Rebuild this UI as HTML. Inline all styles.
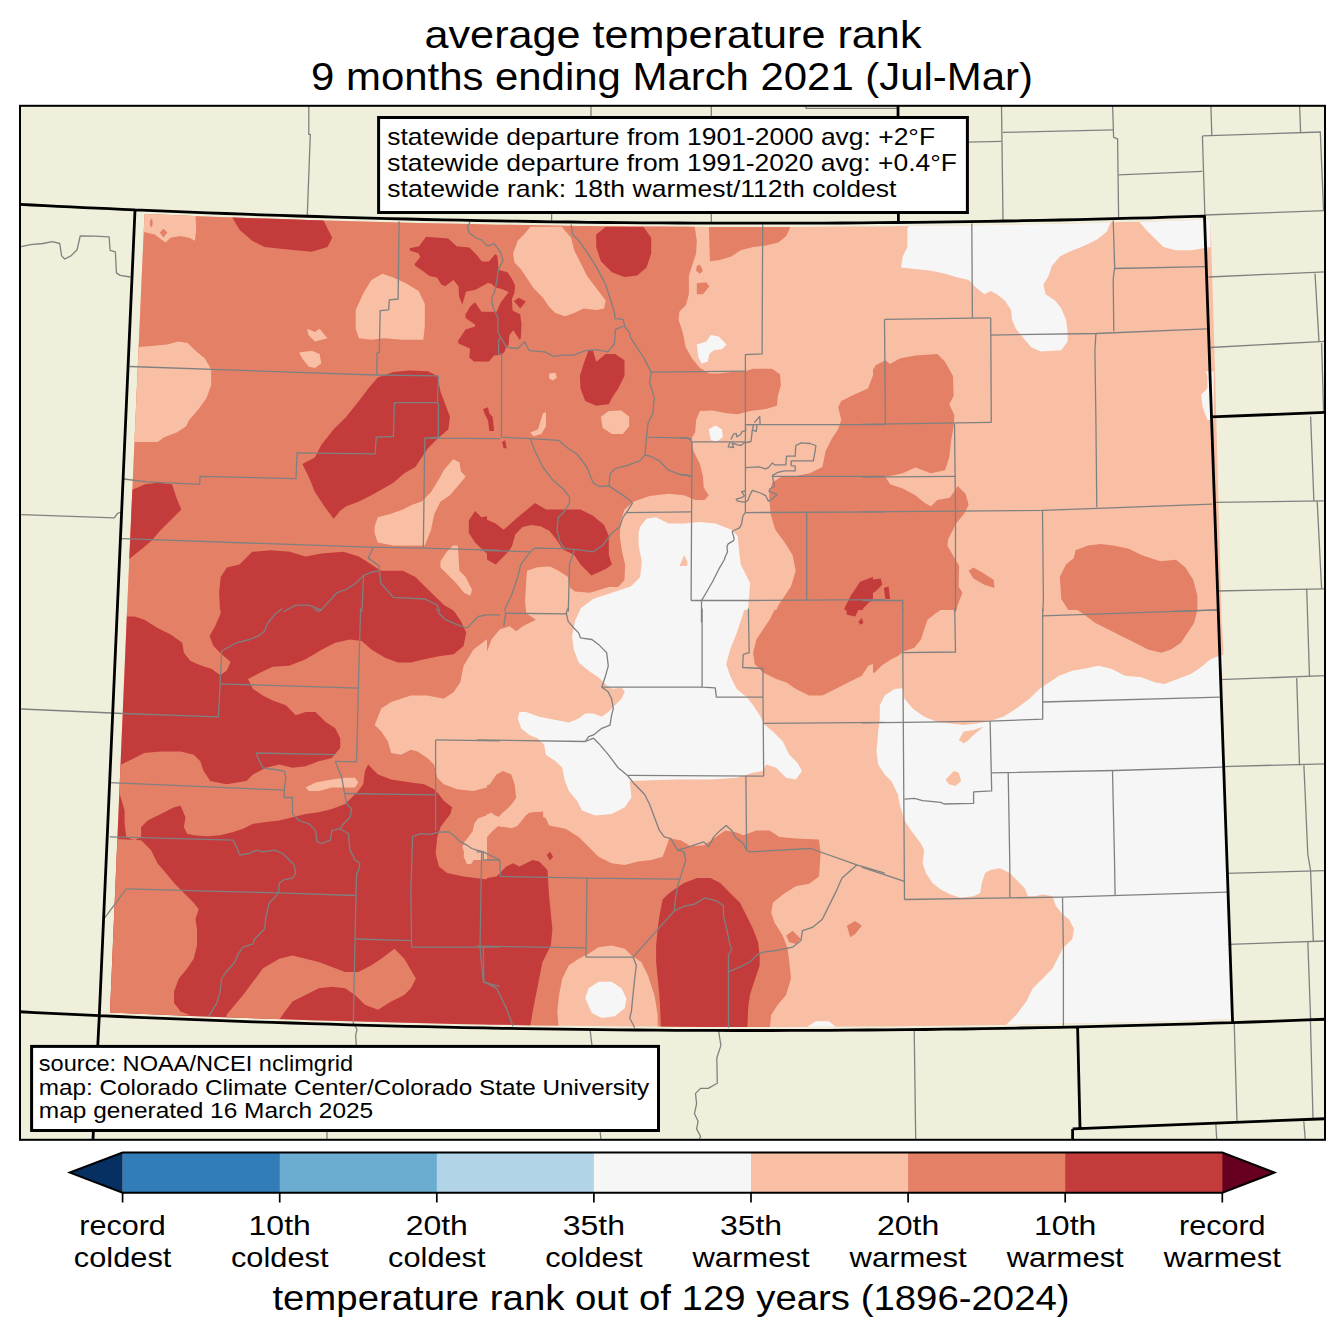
<!DOCTYPE html><html><head><meta charset="utf-8"><style>html,body{margin:0;padding:0;background:#fff;width:1344px;height:1337px;overflow:hidden}svg{display:block}</style></head><body><svg width="1344" height="1337" viewBox="0 0 1344 1337">
<defs><clipPath id="fc"><path d="M144.5,214.0 L171.7,215.1 L198.9,216.2 L226.2,217.2 L253.4,218.2 L280.6,219.1 L307.8,220.0 L335.0,220.8 L362.2,221.6 L389.5,222.3 L416.7,223.0 L443.9,223.6 L471.1,224.1 L498.3,224.7 L525.6,225.1 L552.8,225.5 L580.0,225.9 L607.2,226.2 L634.4,226.4 L661.6,226.6 L688.9,226.8 L716.1,226.9 L743.3,226.9 L770.5,226.9 L797.7,226.9 L824.9,226.8 L852.2,226.6 L879.4,226.4 L906.6,226.1 L933.8,225.8 L961.0,225.4 L988.3,225.0 L1015.5,224.5 L1042.7,224.0 L1069.9,223.4 L1097.1,222.8 L1124.3,222.1 L1151.6,221.4 L1178.8,220.6 L1206.0,219.8 L1209.7,220.0 L1211.0,235.0 L1215.0,370.0 L1221.6,620.0 L1223.4,648.0 L1221.9,700.0 L1231.8,1000.0 L1231.0,1019.6 L1231.0,1019.1 L1202.3,1020.1 L1173.5,1020.9 L1144.8,1021.7 L1116.0,1022.5 L1087.3,1023.2 L1058.5,1023.8 L1029.8,1024.4 L1001.1,1024.9 L972.3,1025.3 L943.6,1025.7 L914.8,1026.1 L886.1,1026.4 L857.3,1026.6 L828.6,1026.8 L799.8,1026.9 L771.1,1027.0 L742.4,1027.0 L713.6,1026.9 L684.9,1026.8 L656.1,1026.6 L627.4,1026.4 L598.6,1026.1 L569.9,1025.8 L541.2,1025.4 L512.4,1024.9 L483.7,1024.4 L454.9,1023.9 L426.2,1023.2 L397.4,1022.6 L368.7,1021.8 L339.9,1021.0 L311.2,1020.2 L282.5,1019.3 L253.7,1018.3 L225.0,1017.3 L196.2,1016.2 L167.5,1015.0 L138.7,1013.8 L110.0,1012.6 L127.5,600.0 Z"/></clipPath><clipPath id="fr"><rect x="20" y="105.5" width="1305" height="1034"/></clipPath></defs>
<rect x="0" y="0" width="1344" height="1337" fill="#fff"/>
<rect x="20" y="105.5" width="1305" height="1034" fill="#efefdb"/>
<g clip-path="url(#fc)">
<rect x="90" y="200" width="1160" height="840" fill="#f8bfa4"/>
<clipPath id="tA"><rect x="80" y="195" width="407" height="415"/></clipPath>
<clipPath id="tB"><rect x="487" y="195" width="386" height="415"/></clipPath>
<clipPath id="tC"><rect x="873" y="195" width="387" height="415"/></clipPath>
<clipPath id="tD"><rect x="80" y="610" width="407" height="435"/></clipPath>
<clipPath id="tE"><rect x="487" y="610" width="386" height="435"/></clipPath>
<clipPath id="tF"><rect x="873" y="610" width="387" height="435"/></clipPath>
<g clip-path="url(#tA)">
<g fill="#e48066"><path d="M88.7,193.7 L500.2,193.7 L500.2,622.5 L88.7,622.5 Z"/></g>
<g fill="#f8bfa4"><path d="M142.1,212.6 L195.5,214.1 L196.2,229.8 L194.9,240.8 L189.2,237.7 L179.8,236.1 L170.4,237.7 L165.7,242.4 L161.0,239.3 L154.7,234.6 L148.4,233.0 L142.1,231.4 Z"/><path d="M132.7,347.6 L151.5,346.1 L167.3,344.5 L178.2,341.4 L187.7,342.9 L195.5,350.8 L204.9,358.6 L211.2,369.6 L211.2,385.3 L206.5,397.9 L198.7,408.9 L189.2,419.9 L186.1,426.2 L176.7,432.5 L164.1,437.2 L157.8,441.9 L148.4,441.9 L132.7,441.9 Z"/><path d="M355.7,328.8 L355.7,309.9 L363.6,292.7 L371.4,280.1 L382.4,273.8 L391.9,277.0 L406.0,283.2 L418.6,291.1 L424.8,303.7 L424.8,325.7 L423.3,339.8 L402.9,339.8 L384.0,338.2 L371.4,339.8 L358.9,338.2 Z"/><path d="M307.0,328.8 L314.9,331.9 L319.6,328.8 L327.5,338.2 L314.9,341.4 L308.6,335.1 Z"/><path d="M299.2,352.4 L311.8,350.8 L319.6,353.9 L321.2,363.4 L314.9,368.1 L308.6,366.5 L302.3,358.6 Z"/><path d="M374.6,526.7 L377.7,517.3 L390.3,514.1 L402.9,509.4 L412.3,504.7 L421.7,501.6 L431.1,492.1 L440.5,476.4 L443.7,470.2 L453.1,459.2 L459.4,462.3 L461.0,471.7 L465.7,476.4 L459.4,484.3 L450.0,495.3 L440.5,501.6 L434.3,514.1 L431.1,529.8 L424.8,545.5 L393.4,545.5 L377.7,542.4 L374.6,533.0 Z"/><path d="M440.5,561.3 L446.8,551.8 L453.1,545.5 L457.8,545.5 L459.4,570.7 L465.7,577.0 L472.0,589.5 L470.4,595.8 L464.1,592.7 L456.3,583.2 L446.8,573.8 L440.5,567.5 Z"/></g>
<g fill="#c43b3c"><path d="M230.1,214.1 L321.2,215.7 L332.2,237.7 L327.5,247.1 L311.8,251.8 L296.0,250.3 L280.3,248.7 L264.6,247.1 L252.1,240.8 L239.5,229.8 Z"/><path d="M377.7,377.5 L393.4,372.1 L409.1,370.6 L428.0,371.2 L437.4,375.9 L440.5,391.6 L445.3,404.2 L450.0,416.8 L448.4,429.3 L437.4,438.7 L428.0,448.2 L421.7,457.6 L415.4,467.0 L404.4,473.3 L393.4,482.7 L371.4,495.3 L358.9,501.6 L346.3,506.3 L340.0,511.0 L333.7,518.8 L324.3,506.3 L314.9,492.1 L308.6,476.4 L302.3,463.9 L314.9,457.6 L321.2,445.0 L333.7,429.3 L346.3,416.8 L358.9,401.0 L368.3,388.5 Z"/><path d="M126.4,492.1 L145.3,484.3 L157.8,482.7 L172.0,484.3 L176.7,498.4 L181.4,509.4 L170.4,520.4 L161.0,529.8 L151.5,540.8 L142.1,548.7 L126.4,561.3 Z"/><path d="M483.0,408.9 L489.2,407.3 L490.8,413.6 L494.0,416.8 L494.0,430.9 L489.2,429.3 L487.7,419.9 L484.5,413.6 Z"/><path d="M220.7,622.5 L219.1,592.7 L220.7,577.0 L226.9,567.5 L239.5,564.4 L252.1,551.8 L270.9,550.3 L289.8,551.8 L305.5,556.5 L321.2,553.4 L343.2,551.8 L358.9,556.5 L371.4,564.4 L380.9,570.7 L402.9,570.7 L415.4,577.0 L428.0,589.5 L444.3,605.2 L456.3,612.1 L464.1,622.5 Z"/><path d="M468.8,520.4 L475.1,511.0 L481.4,517.3 L498.7,514.1 L498.7,561.3 L484.5,551.8 L475.1,542.4 L468.8,533.0 Z"/><path d="M409.5,248.2 L419.1,246.2 L426.1,236.7 L448.3,238.6 L456.6,246.2 L469.3,247.5 L476.3,254.5 L482.0,261.5 L489.0,261.5 L495.4,253.9 L497.3,255.8 L498.6,269.8 L507.5,272.3 L511.9,278.7 L515.1,285.7 L514.5,292.7 L511.9,299.0 L512.6,310.5 L520.2,314.3 L521.5,324.5 L520.8,338.5 L519.6,339.7 L513.2,330.2 L509.4,335.3 L508.7,344.8 L505.6,348.6 L504.3,352.4 L500.5,355.0 L494.1,355.6 L489.0,361.4 L473.8,361.4 L469.3,357.5 L470.0,348.6 L458.5,343.5 L457.9,341.0 L465.5,329.6 L475.0,326.4 L475.0,324.5 L465.5,318.1 L465.5,314.3 L470.6,306.0 L475.0,302.2 L481.4,311.7 L496.7,311.7 L500.5,302.8 L508.7,292.0 L501.7,288.9 L495.4,287.6 L491.6,283.8 L487.8,283.1 L475.0,290.1 L466.1,291.4 L462.3,304.8 L459.1,296.5 L458.5,286.3 L453.4,280.0 L445.2,286.3 L441.3,284.4 L436.9,277.4 L429.3,276.1 L422.9,271.0 L415.3,266.0 L414.6,264.1 L420.3,257.1 L418.4,253.2 L410.2,250.7 Z"/></g>
<g fill="#e48066"><path d="M151.2,218.5 L152.6,221.0 L152.6,225.0 L151.2,227.5 L149.9,225.0 L149.9,221.0 Z"/><path d="M163.5,228.8 L167.3,232.5 L163.5,237.5 L159.8,232.5 Z"/><path d="M443.6,602.4 L443.6,604.7 L449.6,606.2 L454.8,612.2 L460.8,621.1 L464.5,628.6 L480.2,628.6 L480.2,602.4 Z"/></g>
</g>
<g clip-path="url(#tB)">
<g fill="#e48066"><path d="M473.7,218.8 L693.6,218.8 L696.8,240.8 L696.1,253.4 L692.0,266.0 L688.9,275.4 L688.9,294.2 L685.8,305.2 L679.5,311.5 L678.5,319.4 L682.6,331.9 L685.8,347.6 L692.0,358.6 L699.9,368.1 L709.3,373.4 L718.7,373.4 L731.3,372.1 L743.9,371.5 L753.3,368.7 L772.1,368.7 L780.0,374.3 L780.9,385.3 L777.8,396.3 L776.9,405.8 L765.9,408.9 L750.2,411.1 L737.6,414.2 L725.0,413.0 L712.5,410.5 L699.9,411.1 L696.1,419.9 L695.2,432.5 L691.1,438.7 L693.6,451.3 L699.9,463.9 L703.0,476.4 L703.7,487.4 L708.7,495.3 L704.6,500.0 L695.2,500.0 L684.2,495.3 L668.5,493.7 L649.6,495.9 L633.9,501.6 L624.5,509.4 L620.7,520.4 L619.8,536.1 L622.0,551.8 L625.1,564.4 L624.5,580.1 L618.2,587.0 L608.8,587.0 L589.9,592.7 L574.9,591.4 L560.1,579.2 L549.1,566.9 L536.5,568.2 L527.1,571.3 L525.9,586.4 L525.2,602.1 L527.1,622.5 L473.7,622.5 Z"/><path d="M708.7,218.8 L794.1,218.8 L786.3,236.1 L778.4,242.4 L765.9,245.5 L753.3,247.1 L740.7,250.3 L731.3,256.5 L718.7,260.3 L709.9,261.3 Z"/><path d="M696.8,266.0 L699.9,264.4 L703.0,270.7 L699.9,273.8 L696.1,270.7 Z"/><path d="M696.8,283.2 L706.2,282.3 L709.3,286.4 L703.0,294.2 L696.8,294.2 Z"/><path d="M885.2,366.5 L872.7,375.9 L868.0,388.5 L853.8,394.8 L841.3,401.0 L838.1,407.3 L841.3,419.9 L838.1,429.3 L831.8,438.7 L825.5,451.3 L822.4,467.0 L809.8,473.3 L794.1,476.4 L781.6,476.4 L772.1,482.7 L769.0,495.3 L770.6,514.1 L775.3,529.8 L784.7,542.4 L792.6,555.0 L795.7,570.7 L791.0,586.4 L778.4,605.2 L770.6,622.5 L885.2,622.5 Z"/></g>
<g fill="#f8bfa4"><path d="M513.0,253.4 L517.7,240.8 L524.0,234.6 L530.3,226.7 L561.7,226.7 L571.1,237.7 L574.2,250.3 L580.5,262.8 L586.8,275.4 L596.2,288.0 L605.7,300.5 L604.1,308.4 L596.2,309.9 L583.7,308.4 L574.2,313.1 L564.8,316.2 L555.4,313.1 L549.1,306.8 L542.8,297.4 L533.4,288.0 L527.1,278.5 L520.8,269.1 L514.6,262.8 Z"/><path d="M600.9,416.8 L608.8,411.1 L621.4,410.5 L629.2,416.8 L629.2,426.2 L622.9,434.0 L611.9,434.0 L602.5,427.7 Z"/><path d="M530.3,432.5 L538.1,429.3 L542.8,413.6 L546.0,412.0 L546.0,426.2 L541.3,434.0 L533.4,436.2 Z"/><path d="M549.1,373.4 L555.4,372.8 L557.0,377.5 L552.9,380.6 L549.1,378.4 Z"/><path d="M527.1,570.7 L536.5,567.5 L549.1,566.0 L558.5,570.7 L568.0,577.0 L571.1,592.7 L571.1,622.5 L527.1,622.5 L525.5,602.1 L526.5,586.4 Z"/></g>
<g fill="#f7f6f6"><path d="M640.2,526.7 L646.5,518.8 L655.9,517.3 L668.5,523.6 L684.2,523.6 L699.9,522.0 L715.6,523.6 L731.3,529.8 L737.6,536.1 L739.2,551.8 L740.7,564.4 L747.0,577.0 L750.2,583.2 L748.6,602.1 L747.0,622.5 L574.2,622.5 L580.5,608.4 L593.1,599.0 L611.9,592.7 L630.8,586.4 L640.2,577.0 L641.8,561.3 L638.6,545.5 L638.6,533.0 Z"/><path d="M696.8,344.5 L706.2,341.4 L710.9,335.1 L718.7,336.6 L726.6,344.5 L721.9,349.2 L714.0,350.2 L709.3,353.9 L707.7,361.8 L701.5,363.4 L698.3,357.1 Z"/><path d="M708.7,429.3 L715.6,425.5 L721.9,429.3 L722.8,437.2 L717.2,441.3 L710.9,440.3 Z"/></g>
<g fill="#f8bfa4"><path d="M679.5,566.0 L684.2,555.0 L687.3,561.3 L687.3,566.0 Z"/></g>
<g fill="#c43b3c"><path d="M596.2,234.6 L605.7,226.7 L643.4,226.7 L651.2,237.7 L651.2,253.4 L646.5,267.5 L637.1,275.4 L624.5,277.0 L611.9,272.3 L600.9,261.3 L596.2,247.1 Z"/><path d="M580.5,388.5 L579.9,375.9 L583.7,363.4 L588.4,350.8 L593.1,350.8 L596.2,361.8 L605.7,353.9 L615.1,353.9 L624.5,360.2 L624.5,375.9 L618.2,388.5 L611.9,397.9 L608.8,404.2 L596.2,405.8 L585.2,401.0 Z"/><path d="M483.1,408.9 L487.9,407.3 L489.4,413.6 L492.6,416.8 L494.1,430.9 L489.4,430.9 L487.9,419.9 L484.7,416.8 Z"/><path d="M502.0,441.9 L505.1,440.3 L506.7,448.2 L503.6,448.2 Z"/><path d="M473.7,514.1 L495.7,523.6 L503.6,529.8 L517.7,517.3 L535.0,503.1 L546.0,509.4 L558.5,509.4 L580.5,509.4 L593.1,515.7 L604.1,525.1 L608.8,536.1 L608.8,555.0 L611.9,564.4 L605.7,569.1 L591.5,575.4 L580.5,564.4 L574.2,555.0 L561.7,548.7 L536.5,547.1 L517.7,548.7 L508.3,551.8 L495.7,564.4 L473.7,551.8 Z"/><path d="M844.4,608.4 L850.7,595.8 L860.1,581.7 L872.7,577.0 L885.2,577.0 L885.2,595.8 L869.5,602.1 L863.2,608.4 L860.1,622.5 L846.0,622.5 Z"/><path d="M409.5,248.2 L419.1,246.2 L426.1,236.7 L448.3,238.6 L456.6,246.2 L469.3,247.5 L476.3,254.5 L482.0,261.5 L489.0,261.5 L495.4,253.9 L497.3,255.8 L498.6,269.8 L507.5,272.3 L511.9,278.7 L515.1,285.7 L514.5,292.7 L511.9,299.0 L512.6,310.5 L520.2,314.3 L521.5,324.5 L520.8,338.5 L519.6,339.7 L513.2,330.2 L509.4,335.3 L508.7,344.8 L505.6,348.6 L504.3,352.4 L500.5,355.0 L494.1,355.6 L489.0,361.4 L473.8,361.4 L469.3,357.5 L470.0,348.6 L458.5,343.5 L457.9,341.0 L465.5,329.6 L475.0,326.4 L475.0,324.5 L465.5,318.1 L465.5,314.3 L470.6,306.0 L475.0,302.2 L481.4,311.7 L496.7,311.7 L500.5,302.8 L508.7,292.0 L501.7,288.9 L495.4,287.6 L491.6,283.8 L487.8,283.1 L475.0,290.1 L466.1,291.4 L462.3,304.8 L459.1,296.5 L458.5,286.3 L453.4,280.0 L445.2,286.3 L441.3,284.4 L436.9,277.4 L429.3,276.1 L422.9,271.0 L415.3,266.0 L414.6,264.1 L420.3,257.1 L418.4,253.2 L410.2,250.7 Z"/><path d="M513.8,300.9 L518.9,297.8 L525.9,301.6 L520.2,308.6 Z"/></g>
<g fill="#e48066"><path d="M511.8,546.8 L515.4,534.3 L522.5,527.1 L531.4,525.0 L540.4,526.3 L549.3,530.7 L556.4,539.6 L563.6,550.4 L570.7,557.5 L577.9,566.4 L570.0,566.5 L530.0,566.5 L505.0,566.5 L502.9,559.3 Z"/></g>
</g>
<g clip-path="url(#tC)">
<g fill="#e48066"><path d="M858.7,385.3 L865.0,382.2 L869.7,374.3 L876.0,364.9 L885.4,360.2 L890.1,364.0 L899.6,358.6 L915.3,355.5 L937.3,353.9 L945.1,361.8 L953.0,375.9 L953.6,396.3 L949.2,404.2 L954.5,415.2 L953.6,426.2 L951.4,438.7 L949.2,457.6 L945.1,470.2 L931.0,473.3 L915.3,467.6 L902.7,473.3 L885.4,477.1 L890.1,484.3 L902.7,488.4 L915.3,495.3 L924.7,503.1 L931.0,506.3 L937.3,500.0 L949.8,497.8 L957.7,485.9 L965.5,493.7 L968.7,504.7 L964.0,514.1 L956.1,523.6 L948.2,539.3 L947.3,545.5 L954.5,558.1 L959.2,566.0 L958.6,586.4 L962.4,592.7 L957.7,605.2 L953.0,622.5 L858.7,622.5 Z"/><path d="M968.7,570.7 L973.4,567.5 L984.4,573.8 L993.8,580.1 L994.4,588.0 L984.4,584.8 L973.4,578.5 Z"/><path d="M1059.8,577.0 L1066.0,564.4 L1073.9,558.1 L1075.5,550.3 L1088.0,545.5 L1100.6,544.0 L1113.2,545.5 L1128.9,548.7 L1141.4,555.0 L1160.3,561.3 L1176.0,559.7 L1185.4,567.5 L1193.3,580.1 L1197.4,595.8 L1197.4,611.5 L1191.7,622.5 L1081.8,622.5 L1069.2,611.5 L1061.3,599.0 Z"/></g>
<g fill="#f7f6f6"><path d="M907.4,228.3 L913.7,218.8 L968.7,217.3 L1113.2,215.7 L1106.9,231.4 L1097.5,239.3 L1084.9,245.5 L1069.2,251.8 L1059.8,256.5 L1051.9,266.0 L1048.8,275.4 L1043.4,284.8 L1045.6,294.2 L1055.1,300.5 L1061.3,308.4 L1066.0,319.4 L1067.6,331.9 L1067.6,341.4 L1061.3,350.2 L1040.9,351.4 L1031.5,347.6 L1023.6,338.2 L1015.8,328.8 L1012.0,319.4 L1011.1,309.9 L1004.8,300.5 L996.9,294.2 L990.7,291.1 L984.4,294.2 L974.9,286.4 L968.7,280.1 L956.1,277.0 L945.1,273.8 L931.0,270.7 L915.3,269.1 L901.1,267.5 L902.7,256.5 L907.4,247.1 L907.4,237.7 Z"/><path d="M1135.2,217.3 L1210.5,212.6 L1210.5,247.1 L1191.7,250.3 L1176.0,250.3 L1163.4,247.1 L1157.1,240.8 L1147.7,231.4 Z"/><path d="M1205.8,371.2 L1207.4,375.9 L1207.4,388.5 L1201.1,394.8 L1202.7,407.3 L1207.4,419.9 L1213.7,419.9 L1213.7,371.2 Z"/></g>
<g fill="#c43b3c"><path d="M858.7,581.7 L880.7,578.5 L882.3,584.8 L876.0,591.1 L871.3,594.2 L858.7,597.4 Z"/><path d="M883.8,588.0 L888.6,586.4 L890.1,599.0 L885.4,599.0 Z"/></g>
</g>
<g clip-path="url(#tD)">
<g fill="#c43b3c"><path d="M88.4,609.9 L499.8,609.9 L499.8,1042.6 L88.4,1042.6 Z"/></g>
<g fill="#e48066"><path d="M126.3,596.7 L220.1,596.7 L220.7,613.2 L215.1,626.3 L209.5,636.2 L213.5,646.1 L221.7,654.3 L230.6,661.9 L226.6,670.8 L220.1,675.0 L211.8,669.1 L200.3,665.2 L190.4,660.9 L183.9,652.7 L182.2,642.8 L170.7,634.6 L157.5,628.0 L144.4,619.7 L134.5,616.5 L126.3,616.5 Z"/><path d="M248.0,679.0 L259.5,673.1 L272.7,666.8 L289.2,665.8 L305.6,659.2 L322.1,649.4 L335.2,642.8 L350.0,639.5 L361.6,641.1 L371.4,649.4 L384.6,657.6 L397.8,662.5 L410.9,662.5 L424.1,659.2 L440.5,655.9 L453.7,654.3 L463.6,646.1 L466.2,632.9 L463.6,626.3 L460.3,613.2 L466.9,600.0 L470.2,596.7 L499.8,596.7 L499.8,879.7 L483.3,879.1 L463.6,876.4 L447.1,873.1 L438.9,866.6 L435.6,853.4 L437.3,836.9 L440.5,827.1 L450.4,813.9 L452.1,807.3 L443.8,800.7 L438.9,794.2 L434.0,789.2 L424.1,784.3 L410.9,782.6 L391.2,779.4 L378.0,774.4 L368.1,764.5 L364.9,771.1 L363.2,784.3 L358.3,790.9 L351.7,797.5 L345.1,804.0 L331.9,809.0 L318.8,812.3 L305.6,813.9 L292.5,817.2 L279.3,820.5 L266.1,822.1 L253.0,823.8 L243.1,828.7 L233.2,832.0 L220.1,835.3 L206.9,836.3 L193.7,835.3 L187.1,833.7 L183.9,827.1 L185.5,817.2 L180.6,805.7 L174.0,807.3 L160.8,813.9 L147.7,820.5 L141.1,827.1 L141.1,836.9 L134.5,840.2 L126.3,836.9 L124.6,823.8 L124.6,810.6 L121.3,799.1 L119.7,794.2 L114.7,784.3 L118.0,771.1 L121.3,764.5 L134.5,758.0 L144.4,753.0 L160.8,751.4 L180.6,751.4 L193.7,754.7 L200.3,761.3 L203.6,771.1 L210.2,781.0 L226.6,784.3 L246.4,781.0 L253.0,774.4 L266.1,767.8 L279.3,764.5 L292.5,767.8 L305.6,766.2 L318.8,761.3 L331.9,758.0 L340.2,748.1 L340.2,738.2 L335.2,728.3 L325.4,721.8 L315.5,711.9 L305.6,711.9 L295.7,715.2 L285.9,705.3 L272.7,700.4 L262.8,695.4 L253.0,688.9 Z"/><path d="M108.2,838.6 L127.9,839.6 L141.1,840.2 L150.9,850.1 L157.5,863.3 L165.8,873.1 L174.0,883.0 L183.9,892.9 L193.7,902.8 L198.7,909.3 L195.4,919.2 L197.0,929.1 L197.0,945.5 L193.7,958.7 L187.1,968.6 L178.9,978.5 L174.0,991.6 L174.0,1003.1 L180.6,1011.4 L190.4,1015.3 L104.9,1015.3 L106.5,929.1 Z"/><path d="M226.6,1014.7 L243.1,994.9 L253.0,981.8 L262.8,968.6 L279.3,958.7 L292.5,955.4 L305.6,958.7 L318.8,962.0 L331.9,966.9 L345.1,971.9 L358.3,971.9 L371.4,965.3 L381.3,958.7 L394.5,948.8 L404.3,958.7 L415.9,978.5 L410.9,988.3 L404.3,994.9 L391.2,1001.5 L378.0,1009.7 L364.9,1004.8 L355.0,994.9 L345.1,988.3 L331.9,986.7 L318.8,988.3 L305.6,994.9 L292.5,1001.5 L282.6,1014.7 L279.3,1019.6 L226.6,1019.6 Z"/><path d="M481.7,841.7 L492.1,831.2 L498.0,826.0 L511.4,828.3 L517.4,826.0 L525.6,815.6 L529.3,812.6 L543.1,811.2 L543.1,858.0 L481.7,858.0 Z"/><path d="M443.6,602.4 L443.6,604.7 L449.6,606.2 L454.8,612.2 L460.8,621.1 L464.5,628.6 L480.2,628.6 L480.2,602.4 Z"/></g>
<g fill="#f8bfa4"><path d="M374.7,725.1 L381.3,708.6 L391.2,702.0 L410.9,695.4 L427.4,695.4 L443.8,698.7 L453.7,692.1 L460.3,682.3 L463.6,665.8 L473.5,649.4 L486.6,639.5 L499.8,636.2 L499.8,784.3 L486.6,787.6 L473.5,790.9 L457.0,789.2 L443.8,784.3 L437.3,777.7 L434.0,764.5 L427.4,758.0 L417.5,751.4 L410.9,749.7 L401.1,754.7 L391.2,753.0 L387.9,741.5 L381.3,731.6 Z"/><path d="M463.6,856.7 L465.2,843.5 L473.5,830.4 L483.3,820.5 L499.8,813.9 L499.8,863.3 L483.3,860.0 L473.5,860.0 L466.9,863.3 Z"/><path d="M305.6,787.6 L315.5,782.6 L331.9,779.4 L345.1,777.7 L355.0,777.7 L358.3,782.6 L355.0,787.6 L345.1,787.6 L331.9,787.6 L318.8,790.9 L308.9,790.9 Z"/><path d="M515.1,799.6 L545.7,799.6 L545.7,811.0 L529.3,812.6 L525.6,815.6 L520.4,822.3 L517.4,826.0 L511.4,828.3 L507.0,827.2 L498.0,826.0 L492.1,831.2 L487.6,836.5 L483.2,841.7 L480.9,847.6 L479.4,852.1 L475.7,856.5 L471.2,864.0 L466.8,864.0 L465.3,858.0 L464.6,853.6 L462.3,846.9 L464.6,841.7 L468.3,837.2 L472.7,831.2 L474.2,823.8 L477.9,818.6 L481.7,817.1 L486.1,815.6 L491.3,812.6 L495.1,815.6 L498.8,817.1 L501.8,813.4 L507.0,808.9 L511.4,804.5 Z"/></g>
</g>
<g clip-path="url(#tE)">
<g fill="#e48066"><path d="M753.1,652.7 L756.4,639.5 L763.0,629.6 L769.6,619.7 L776.2,606.6 L782.8,596.7 L884.8,596.7 L884.8,659.2 L868.3,665.8 L861.8,675.7 L848.6,682.3 L835.4,688.9 L822.3,695.4 L809.1,695.4 L795.9,688.9 L786.1,682.3 L776.2,679.0 L763.0,672.4 L754.8,664.2 Z"/><path d="M473.4,596.7 L526.1,596.7 L526.1,613.2 L535.9,619.7 L522.8,626.3 L516.2,631.3 L509.6,626.3 L499.7,629.6 L491.5,639.5 L486.6,652.7 L473.4,659.2 Z"/><path d="M473.4,790.9 L489.9,784.3 L496.5,774.4 L503.0,771.1 L511.3,774.4 L514.6,784.3 L516.2,797.5 L509.6,810.6 L499.7,817.2 L489.9,813.9 L473.4,813.9 Z"/><path d="M476.7,846.8 L486.6,836.9 L499.7,830.4 L516.2,823.8 L526.1,817.2 L535.9,813.9 L545.8,817.9 L549.1,825.4 L565.6,828.7 L578.7,836.9 L588.6,846.8 L598.5,856.7 L611.6,863.3 L624.8,864.9 L638.0,861.6 L651.1,860.0 L662.6,856.7 L666.9,845.2 L669.2,838.6 L680.7,840.2 L690.6,846.2 L703.8,845.2 L713.7,838.6 L725.2,830.4 L735.0,832.0 L743.3,835.3 L756.4,830.4 L769.6,830.4 L779.5,836.9 L795.9,838.6 L819.0,839.6 L820.6,853.4 L819.0,876.4 L809.1,883.7 L795.9,886.3 L782.8,894.5 L772.9,902.8 L771.2,912.6 L774.5,922.5 L782.8,935.7 L787.7,948.8 L789.3,962.0 L791.0,978.5 L786.1,994.9 L777.8,1004.8 L771.2,1014.7 L769.6,1031.1 L657.7,1031.1 L657.7,1014.7 L654.4,994.9 L647.8,975.2 L641.3,962.0 L631.4,955.4 L624.8,948.8 L611.6,945.5 L598.5,947.2 L588.6,953.8 L578.7,958.7 L568.9,965.3 L562.3,978.5 L559.0,994.9 L557.3,1011.4 L559.0,1031.1 L476.7,1031.1 Z"/><path d="M786.1,935.7 L792.6,930.7 L800.9,939.0 L795.9,943.9 L789.3,942.3 Z"/><path d="M846.9,925.8 L855.2,920.9 L861.8,925.8 L855.2,934.0 L850.2,937.3 Z"/></g>
<g fill="#f7f6f6"><path d="M588.6,596.7 L746.6,596.7 L743.3,613.2 L736.7,632.9 L730.1,649.4 L726.2,664.2 L730.1,675.7 L736.7,688.9 L746.6,697.1 L753.1,705.3 L759.7,715.2 L764.7,725.1 L772.9,731.6 L782.8,741.5 L789.3,754.7 L797.6,762.9 L801.9,771.1 L795.9,779.4 L786.1,777.7 L776.2,767.8 L766.3,764.5 L762.4,771.1 L753.1,772.8 L736.7,777.7 L710.4,779.4 L677.5,779.4 L651.1,780.3 L629.7,781.0 L631.4,797.5 L624.8,807.3 L611.6,813.9 L595.2,815.6 L582.0,810.6 L577.1,800.7 L568.9,790.9 L564.9,781.0 L562.3,767.8 L555.7,761.3 L545.8,754.7 L544.2,744.8 L537.6,738.2 L529.4,734.9 L521.1,728.3 L517.8,718.5 L519.5,711.9 L526.1,711.9 L539.2,716.8 L555.7,720.1 L568.9,722.4 L578.7,718.5 L585.3,713.5 L593.5,713.5 L601.8,716.8 L608.3,711.9 L614.9,705.3 L621.5,698.7 L624.8,692.1 L621.5,687.2 L613.3,688.9 L606.7,685.6 L598.5,677.3 L588.6,670.8 L578.7,662.5 L573.8,649.4 L572.1,636.2 L575.4,619.7 L582.0,606.6 Z"/><path d="M585.3,998.2 L588.6,988.3 L598.5,981.8 L611.6,981.8 L621.5,988.3 L626.4,998.2 L624.8,1008.1 L614.9,1016.3 L601.8,1018.0 L591.9,1013.0 Z"/><path d="M805.8,1027.8 L815.7,1021.2 L828.8,1021.2 L837.1,1027.8 Z"/></g>
<g fill="#c43b3c"><path d="M476.7,879.7 L496.5,876.4 L506.3,866.6 L512.9,863.3 L519.5,866.6 L526.1,863.3 L532.7,860.0 L539.2,861.6 L547.5,869.9 L549.1,896.2 L552.4,929.1 L550.8,945.5 L545.8,955.4 L542.5,962.0 L539.2,978.5 L535.9,994.9 L532.7,1011.4 L529.4,1031.1 L476.7,1031.1 Z"/><path d="M662.6,899.5 L667.6,894.5 L674.2,889.6 L684.0,883.0 L697.2,878.1 L710.4,878.1 L720.2,883.0 L730.1,892.9 L740.0,902.8 L746.6,915.9 L753.1,929.1 L758.1,942.3 L759.7,955.4 L759.7,965.3 L756.4,975.2 L753.1,985.0 L749.9,994.9 L748.2,1008.1 L747.2,1031.1 L661.0,1031.1 L660.3,1011.4 L659.4,994.9 L657.7,978.5 L656.1,962.0 L656.1,945.5 L657.7,929.1 L659.4,915.9 Z"/><path d="M845.3,603.3 L851.9,596.7 L861.8,596.7 L858.5,609.9 L855.2,616.5 L846.9,614.8 Z"/><path d="M858.5,621.4 L861.8,618.1 L863.4,623.0 L860.1,624.7 Z"/><path d="M546.8,855.0 L550.1,851.8 L553.1,856.7 L549.8,860.6 Z"/></g>
<g fill="#e48066"><path d="M481.7,841.7 L492.1,831.2 L498.0,826.0 L511.4,828.3 L517.4,826.0 L525.6,815.6 L529.3,812.6 L543.1,811.2 L543.1,858.0 L481.7,858.0 Z"/></g>
<g fill="#f8bfa4"><path d="M515.1,799.6 L545.7,799.6 L545.7,811.0 L529.3,812.6 L525.6,815.6 L520.4,822.3 L517.4,826.0 L511.4,828.3 L507.0,827.2 L498.0,826.0 L492.1,831.2 L487.6,836.5 L483.2,841.7 L480.9,847.6 L479.4,852.1 L475.7,856.5 L471.2,864.0 L466.8,864.0 L465.3,858.0 L464.6,853.6 L462.3,846.9 L464.6,841.7 L468.3,837.2 L472.7,831.2 L474.2,823.8 L477.9,818.6 L481.7,817.1 L486.1,815.6 L491.3,812.6 L495.1,815.6 L498.8,817.1 L501.8,813.4 L507.0,808.9 L511.4,804.5 Z"/></g>
</g>
<g clip-path="url(#tF)">
<g fill="#e48066"><path d="M858.4,596.7 L953.9,596.7 L945.6,606.6 L935.8,613.2 L927.5,619.7 L924.2,629.6 L920.9,639.5 L914.4,647.7 L904.5,651.0 L897.9,655.9 L891.3,659.2 L881.5,665.8 L874.9,672.4 L858.4,675.7 Z"/><path d="M1062.5,596.7 L1213.8,596.7 L1213.8,606.6 L1197.4,609.9 L1194.1,623.0 L1187.5,632.9 L1180.9,642.8 L1171.1,649.4 L1161.2,652.7 L1148.0,649.4 L1134.9,642.8 L1121.7,636.2 L1108.5,629.6 L1095.4,623.0 L1082.2,613.2 L1072.3,606.6 Z"/></g>
<g fill="#f7f6f6"><path d="M879.8,705.3 L884.7,695.4 L894.6,688.9 L902.8,688.2 L904.5,698.7 L912.7,708.6 L924.2,716.8 L937.4,721.8 L950.6,723.4 L963.7,725.1 L976.9,723.4 L990.1,721.1 L1003.2,716.8 L1016.4,708.6 L1029.5,698.7 L1039.4,688.9 L1049.3,682.3 L1059.2,675.7 L1072.3,670.8 L1085.5,668.5 L1098.7,665.8 L1111.8,669.1 L1125.0,675.7 L1141.4,677.3 L1154.6,682.3 L1164.5,683.9 L1177.6,679.0 L1190.8,674.0 L1200.7,667.5 L1210.5,659.2 L1218.8,655.9 L1230.3,652.7 L1236.9,1027.8 L1003.2,1027.8 L1016.4,1014.7 L1026.3,1001.5 L1032.8,988.3 L1042.7,978.5 L1052.6,968.6 L1059.2,955.4 L1062.5,948.8 L1072.3,939.0 L1074.0,929.1 L1069.0,919.2 L1062.5,914.3 L1055.9,906.1 L1052.6,896.2 L1042.7,894.5 L1034.5,896.2 L1027.9,896.2 L1024.6,888.0 L1016.4,879.7 L1009.8,873.1 L999.9,868.2 L990.1,869.9 L985.1,873.1 L981.8,883.0 L980.2,892.9 L973.6,896.2 L960.4,897.8 L950.6,894.5 L940.7,889.6 L932.5,883.0 L925.9,873.1 L922.6,863.3 L924.2,850.1 L920.9,843.5 L911.1,830.4 L904.5,820.5 L899.6,804.0 L897.9,794.2 L891.3,781.0 L884.7,774.4 L878.2,764.5 L876.5,751.4 L878.2,731.6 L879.8,718.5 Z"/></g>
<g fill="#f8bfa4"><path d="M958.8,739.9 L963.7,731.6 L973.6,730.0 L983.5,726.7 L973.6,734.9 L967.0,741.5 L963.7,743.2 Z"/><path d="M945.6,779.4 L953.9,771.1 L958.8,772.8 L961.1,781.0 L955.5,785.9 L948.9,784.3 Z"/></g>
</g>
</g>
<g clip-path="url(#fr)" fill="none" stroke="#808080" stroke-width="1.3" stroke-linejoin="round">
<path d="M129.6,366.5 L376.2,375.0 L438.4,375.9"/>
<path d="M399.1,221.4 L398.1,299.0 L389.3,299.9 L388.7,309.9 L380.2,310.6 L379.3,352.4 L377.1,353.0 L376.8,375.0"/>
<path d="M123.9,479.0 L146.8,481.8 L199.6,484.3 L200.2,476.4 L296.0,478.6 L297.0,452.9 L375.2,453.8 L376.2,437.2 L393.4,436.5 L394.4,402.6 L437.4,402.6 L438.4,375.9"/>
<path d="M438.4,402.6 L438.4,437.2 L424.8,438.1 L500.2,438.7"/>
<path d="M424.8,438.1 L423.3,548.1"/>
<path d="M121.7,538.6 L368.3,547.1 L423.3,548.1 L500.2,550.3"/>
<path d="M373.0,548.1 L368.3,558.1 L379.3,566.0 L379.3,570.7 L371.4,572.3 L363.6,575.4 L355.7,583.2 L346.3,589.5 L336.9,592.7 L321.2,609.9 L308.6,605.2 L296.0,605.2 L283.5,611.5"/>
<path d="M363.6,575.4 L361.9,611.5"/>
<path d="M379.3,570.7 L380.9,583.2 L393.4,597.4 L424.8,599.0 L437.4,605.2 L439.7,611.5"/>
<path d="M95.0,236.1 L109.1,236.8 L110.1,250.3 L115.4,251.8 L116.4,272.9 L120.1,275.4 L130.5,277.0"/>
<path d="M21.2,246.6 L30.5,244.7 L42.9,243.5 L52.2,241.6 L59.7,243.5 L61.6,255.9 L64.7,259.0 L70.9,255.9 L77.1,249.7 L80.2,236.0 L95.0,236.1"/>
<path d="M21.2,514.7 L114.3,517.8 L117.4,513.5 L121.8,511.6"/>
<path d="M21.2,709.0 L123.0,713.5"/>
<path d="M470.0,222.1 L467.4,226.5 L469.3,232.9 L476.3,238.0 L481.4,239.9 L487.8,246.2 L494.1,243.7 L500.5,252.0 L503.0,260.9 L498.6,268.5 L496.7,281.2 L494.8,291.4 L491.6,297.8 L492.8,306.7 L497.9,318.1 L497.9,332.1 L500.5,337.2"/>
<path d="M500.5,337.2 L506.7,347.4 L518.0,348.5 L524.7,341.8 L529.2,350.7 L544.9,351.9 L553.8,356.4 L562.8,355.2 L574.0,355.2 L585.3,350.7 L596.5,349.6 L607.7,351.9 L614.4,344.0 L615.5,329.4 L623.4,326.1"/>
<path d="M500.5,337.2 L498.6,340.0 L498.6,353.7 L501.7,354.4"/>
<path d="M571.1,224.5 L572.7,234.6 L579.0,240.8 L586.8,251.8 L594.7,264.4 L600.9,275.4 L605.7,284.8 L608.8,294.2 L611.9,303.7 L614.5,313.1 L615.1,318.7 L622.9,319.4 L625.1,327.2 L629.2,331.9 L630.8,338.2 L637.1,347.6 L643.4,357.1 L651.2,372.1"/>
<path d="M651.2,372.1 L745.4,371.2"/>
<path d="M762.7,224.5 L762.1,353.9 L745.4,354.6 L745.4,512.6"/>
<path d="M651.2,372.1 L649.6,382.2 L654.3,397.9 L652.8,413.6 L648.1,423.0 L646.5,437.2 L688.9,438.1 L692.0,441.9 L691.1,600.5"/>
<path d="M501.7,353.9 L501.4,437.2 L530.3,438.7 L558.5,440.3 L568.0,448.2 L577.4,454.5 L586.8,467.0 L593.1,482.7 L599.4,486.5 L608.8,485.9 L618.2,492.1 L627.6,498.4 L632.4,503.1 L627.6,511.0 L622.9,517.3 L619.8,526.7 L611.9,533.0 L607.2,539.3 L602.5,545.5 L593.1,551.8 L583.7,550.3 L574.2,549.3 L564.8,548.7"/>
<path d="M646.5,437.2 L644.9,455.1 L649.6,456.0 L659.1,460.7 L668.5,470.2 L681.0,474.9 L691.1,475.8"/>
<path d="M644.9,455.1 L640.2,460.7 L627.6,465.4 L615.1,468.6 L610.4,473.3 L608.8,485.9"/>
<path d="M530.3,438.7 L535.0,451.3 L542.8,467.0 L552.3,479.6 L563.2,489.0 L569.5,496.9 L569.5,503.1 L564.8,511.0 L558.5,517.3 L557.0,529.8 L560.1,542.4 L564.8,548.7"/>
<path d="M626.1,512.6 L691.1,511.9"/>
<path d="M691.1,600.5 L747.0,600.5 L885.2,599.6"/>
<path d="M692.0,441.9 L745.4,441.9"/>
<path d="M745.4,424.6 L885.2,424.6"/>
<path d="M772.1,476.4 L885.2,476.4"/>
<path d="M745.4,512.6 L885.2,511.9"/>
<path d="M745.4,512.4 L742.9,515.8 L741.6,523.8 L739.6,527.9 L733.6,530.5 L732.2,531.9 L734.2,538.6 L733.6,540.6 L728.2,543.9 L726.9,546.6 L727.5,552.0 L725.5,556.0 L724.2,560.0 L718.8,569.2 L712.5,581.7 L706.2,592.7 L701.5,600.6 L701.5,622.6"/>
<path d="M806.7,512.6 L806.7,600.5"/>
<path d="M480.0,550.3 L530.3,551.8 L535.0,548.1 L564.8,548.7"/>
<path d="M530.3,551.8 L520.8,564.4 L517.7,577.0 L511.4,595.8 L505.1,608.4 L504.8,611.5"/>
<path d="M574.2,550.3 L569.5,564.4 L568.3,611.5"/>
<path d="M745.4,467.6 L759.0,466.9 L765.7,468.9 L768.4,467.6 L772.4,462.9 L774.4,464.9 L785.8,464.9 L786.5,456.2 L795.2,456.2 L795.8,445.5 L801.2,442.8 L809.9,443.5 L815.9,445.5 L815.3,450.2 L813.3,460.9 L791.2,460.9 L791.2,465.6 L795.2,466.2 L795.2,470.9 L784.5,470.9 L777.8,472.3 L772.4,475.6 L774.4,486.3 L769.7,489.0 L769.1,491.7 L777.1,494.4 L771.1,499.7 L768.4,501.1 L765.7,495.7 L760.4,493.0 L752.3,490.4 L749.6,495.7 L748.3,499.7 L745.6,502.4 L737.6,501.1 L736.2,499.1 L741.6,497.7 L744.3,495.7 L741.6,491.7 L745.4,491.0"/>
<path d="M745.4,424.7 L753.7,424.7 L752.3,430.1 L756.3,431.4 L757.0,424.7"/>
<path d="M754.3,422.7 L759.7,416.4 L760.1,424.5"/>
<path d="M730.2,442.1 L728.2,446.8 L733.6,447.5 L732.2,442.8 L737.6,444.8 L740.9,445.5 L744.3,442.8 L751.0,441.5 L752.3,430.1"/>
<path d="M730.9,439.5 L733.6,434.1 L736.2,433.4 L736.9,436.8 L740.3,434.8 L742.3,431.4 L745.6,430.8 L745.6,427.4"/>
<path d="M680.0,438.1 L685.4,437.5 L688.7,438.8 L692.1,438.8"/>
<path d="M680.0,474.3 L688.0,475.0 L689.4,476.3 L691.8,476.3"/>
<path d="M971.8,223.6 L972.4,317.8"/>
<path d="M884.5,319.4 L990.7,317.8"/>
<path d="M884.5,319.4 L885.4,423.7"/>
<path d="M990.7,317.8 L991.3,422.4"/>
<path d="M861.9,424.3 L991.3,422.4"/>
<path d="M954.5,423.7 L955.5,511.0"/>
<path d="M861.9,477.1 L955.5,476.4"/>
<path d="M861.9,511.9 L1042.5,510.4 L1212.1,504.1"/>
<path d="M990.7,335.1 L1095.9,333.5 L1206.8,328.8"/>
<path d="M1095.9,333.5 L1094.9,350.8 L1095.9,419.9 L1096.8,507.2"/>
<path d="M1113.2,220.4 L1114.7,267.5 L1113.2,278.5 L1113.8,331.3"/>
<path d="M1114.7,268.5 L1204.9,266.6"/>
<path d="M1042.5,510.4 L1043.4,599.0 L1042.9,611.5"/>
<path d="M1174.0,611.5 L1216.8,609.9"/>
<path d="M955.5,511.0 L955.5,611.5"/>
<path d="M861.9,600.5 L902.7,600.5 L902.7,611.5"/>
<path d="M322.8,608.5 L318.8,611.5 L313.5,608.5"/>
<path d="M282.2,608.5 L274.4,614.8 L267.8,623.0 L264.5,631.3 L257.9,636.2 L249.7,639.5 L236.5,642.8 L221.7,651.0 L220.1,683.9 L218.4,716.8 L123.0,713.5"/>
<path d="M220.1,683.9 L358.3,688.2"/>
<path d="M360.6,608.5 L358.3,688.2 L356.6,761.9 L335.2,761.3"/>
<path d="M256.3,753.0 L335.2,754.7"/>
<path d="M256.3,753.0 L259.5,761.3 L262.8,767.8 L274.4,769.5 L284.2,771.1 L285.9,777.7 L284.2,789.2 L284.2,797.5 L292.5,797.5 L292.5,813.9 L299.0,820.5 L308.9,823.8 L315.5,830.4 L317.1,841.9 L322.1,843.5 L330.3,840.2 L331.9,830.4 L340.2,828.7 L343.5,823.8 L350.0,817.2 L351.7,809.0 L346.8,804.0 L345.1,795.8 L343.5,787.6 L341.8,777.7 L338.5,769.5 L335.2,761.3"/>
<path d="M109.8,782.6 L284.2,790.2"/>
<path d="M345.1,793.5 L435.6,794.8"/>
<path d="M435.6,739.9 L435.6,830.4"/>
<path d="M435.6,739.9 L499.8,740.9"/>
<path d="M412.6,836.3 L420.8,833.7 L430.7,834.3 L438.9,832.0 L448.8,832.0 L453.7,835.3 L460.3,841.9 L466.9,845.2 L471.8,848.5 L476.8,850.1 L483.3,851.8 L499.8,860.0"/>
<path d="M412.6,836.3 L410.9,889.6 L411.6,947.2 L478.4,947.2 L499.8,947.2"/>
<path d="M481.7,851.8 L480.0,947.2 L483.3,981.8 L499.8,986.7"/>
<path d="M340.2,828.7 L348.4,833.7 L350.0,850.1 L355.0,860.0 L359.9,863.3 L358.3,871.5 L356.6,873.1 L355.0,939.0 L353.3,1024.5"/>
<path d="M109.8,836.9 L142.7,837.6 L233.2,840.2 L236.5,846.8 L239.8,855.0 L249.7,853.4 L256.3,850.1 L262.8,851.8 L274.4,850.1 L282.6,853.4 L289.2,860.0 L294.1,864.9 L295.7,873.1 L292.5,878.1 L284.2,879.7 L279.3,883.0 L278.6,892.9"/>
<path d="M126.3,888.9 L278.6,892.9 L355.0,895.5"/>
<path d="M126.3,888.9 L104.9,917.6"/>
<path d="M278.6,892.9 L274.4,897.8 L269.4,902.8 L266.1,915.9 L264.5,929.1 L259.5,934.0 L254.6,939.0 L253.0,943.9 L243.1,947.2 L238.2,953.8 L234.9,962.0 L225.0,973.5 L221.7,978.5 L220.1,991.6 L216.8,1003.1 L211.8,1011.4 L208.5,1016.3"/>
<path d="M355.0,939.0 L410.9,940.6"/>
<path d="M436.3,608.5 L438.9,613.2 L445.5,619.7 L457.0,624.7 L466.9,628.0 L478.4,616.5 L486.6,614.8 L499.8,614.8"/>
<path d="M505.7,613.2 L504.7,619.7 L503.7,626.3"/>
<path d="M504.7,613.2 L567.2,613.8"/>
<path d="M567.7,608.5 L566.2,613.2 L568.2,621.4 L573.8,628.0 L578.7,632.9 L580.4,637.8 L591.9,639.5 L598.5,644.4 L603.4,649.4 L606.7,652.7 L608.3,665.8 L605.1,677.3 L601.8,687.2 L702.1,687.2"/>
<path d="M702.1,608.5 L702.1,687.2 L715.3,687.9 L716.3,697.1 L763.0,697.1"/>
<path d="M601.8,687.2 L608.3,692.1 L611.6,698.7 L613.3,708.6 L611.6,715.2 L610.0,725.1 L601.8,728.3 L593.5,734.9 L588.6,736.6 L585.3,741.5"/>
<path d="M476.7,739.9 L585.3,741.5"/>
<path d="M585.3,741.5 L593.5,738.2 L598.5,743.2 L608.3,754.7 L618.2,767.8 L628.1,776.1 L634.7,784.3 L644.5,794.2 L649.5,804.0 L654.4,817.2 L659.4,830.4 L664.3,836.9 L670.9,838.6 L677.5,850.1 L684.0,851.8 L685.7,860.0 L680.7,876.4 L677.5,886.3 L675.8,896.2 L674.2,911.0"/>
<path d="M674.2,911.0 L684.0,906.1 L693.9,904.4 L705.4,897.8 L716.9,901.1 L723.5,906.1 L723.5,915.9 L726.8,929.1 L730.1,945.5 L731.8,948.8 L728.5,955.4 L728.5,971.9 L728.5,1027.8"/>
<path d="M674.2,911.0 L633.0,957.1"/>
<path d="M628.1,775.4 L763.7,776.1"/>
<path d="M748.4,608.5 L749.2,652.7 L743.3,654.3 L742.6,667.5 L763.0,668.5 L763.0,697.1 L763.7,776.1"/>
<path d="M763.7,723.4 L884.8,722.4"/>
<path d="M745.9,776.1 L746.6,850.1 L749.9,851.8 L810.7,848.5 L856.8,864.9 L884.8,873.1"/>
<path d="M856.8,864.9 L842.0,878.1 L835.4,892.9 L828.8,906.1 L822.3,919.2 L812.4,927.4 L802.5,930.7 L800.9,940.6 L792.6,947.2 L776.2,950.5 L763.0,952.1 L756.4,955.4 L749.9,962.0 L740.0,966.9 L728.5,971.9"/>
<path d="M677.5,850.1 L684.0,848.5 L693.9,845.2 L703.8,841.9 L708.7,846.8 L713.7,836.9 L720.2,830.4 L726.2,825.4 L731.8,830.4 L735.0,836.9 L743.3,843.5 L746.6,850.1"/>
<path d="M476.7,851.8 L483.3,851.8 L483.3,860.0 L499.7,860.0 L500.4,876.4 L587.0,878.1 L680.7,879.1"/>
<path d="M587.0,878.1 L586.0,957.1 L633.0,957.1"/>
<path d="M476.7,946.2 L586.0,947.9"/>
<path d="M483.3,947.2 L483.9,981.8 L496.5,988.3 L506.3,1008.1 L512.9,1026.2"/>
<path d="M633.0,957.1 L636.3,965.3 L634.7,978.5 L633.0,994.9 L631.4,1011.4 L629.7,1018.0 L634.7,1027.8"/>
<path d="M902.8,608.5 L902.8,652.7 L955.5,652.0 L954.7,608.5"/>
<path d="M861.7,722.8 L904.5,722.4 L990.1,721.1 L1042.7,719.1 L1042.7,615.8 L1218.8,609.9"/>
<path d="M1042.7,615.8 L1042.7,608.5"/>
<path d="M902.8,652.7 L903.8,797.5 L904.5,899.5"/>
<path d="M990.1,721.1 L991.7,790.9 L973.6,791.9 L973.6,803.4 L944.0,804.0 L940.7,802.4 L930.8,801.4 L922.6,800.7 L914.4,798.4 L904.5,799.1"/>
<path d="M991.7,772.8 L1115.1,770.5 L1222.1,767.2"/>
<path d="M1042.7,702.0 L1219.8,697.1"/>
<path d="M1008.2,772.8 L1009.8,863.3 L1009.8,897.8"/>
<path d="M1112.5,771.1 L1114.5,860.0 L1115.1,895.5"/>
<path d="M904.5,899.5 L1009.8,897.8 L1062.5,897.2 L1227.0,892.2"/>
<path d="M1062.5,897.2 L1063.4,948.8 L1063.4,1026.2"/>
<path d="M861.7,867.2 L904.5,881.4"/>
<path d="M308.8,105.0 L308.8,134.4 L310.3,134.4 L307.3,215.0"/>
<path d="M591.0,105.0 L591.0,118.0"/>
<path d="M551.6,212.0 L551.6,221.0"/>
<path d="M711.3,105.0 L711.3,118.0"/>
<path d="M711.3,212.0 L711.3,223.0"/>
<path d="M806.0,105.0 L806.0,108.3 L897.0,108.3"/>
<path d="M967.0,142.2 L1001.5,141.4"/>
<path d="M1001.5,105.0 L1003.0,220.0"/>
<path d="M1003.0,132.4 L1113.6,129.9"/>
<path d="M1112.6,105.0 L1113.6,137.4 L1117.6,138.9 L1118.6,217.0"/>
<path d="M1118.6,174.8 L1202.4,171.3"/>
<path d="M1210.9,105.0 L1211.8,134.9"/>
<path d="M1202.4,135.9 L1321.0,132.0"/>
<path d="M1202.4,135.9 L1204.9,216.0"/>
<path d="M1299.6,105.0 L1300.6,132.4"/>
<path d="M1320.3,132.2 L1323.6,211.0"/>
<path d="M1205.0,215.0 L1325.0,210.6"/>
<path d="M1208.5,277.0 L1325.0,271.9"/>
<path d="M1315.0,273.5 L1319.0,341.8"/>
<path d="M1210.4,347.5 L1325.0,341.3"/>
<path d="M1321.6,343.0 L1323.6,412.0"/>
<path d="M1213.7,502.4 L1325.0,500.8"/>
<path d="M1216.5,591.0 L1325.0,588.8"/>
<path d="M1219.5,679.6 L1325.0,675.7"/>
<path d="M1222.5,766.6 L1325.0,763.8"/>
<path d="M1226.0,873.4 L1325.0,870.7"/>
<path d="M1228.5,944.3 L1325.0,941.0"/>
<path d="M1310.6,416.6 L1313.9,501.3"/>
<path d="M1317.2,501.3 L1321.6,588.8"/>
<path d="M1306.7,588.8 L1309.5,676.8"/>
<path d="M1296.7,678.0 L1299.5,765.4"/>
<path d="M1303.9,765.4 L1307.8,854.0 L1310.6,870.7"/>
<path d="M1310.6,870.7 L1313.3,941.0"/>
<path d="M1307.8,941.0 L1310.6,1019.0"/>
<path d="M1234.2,1022.6 L1237.0,1121.3"/>
<path d="M1310.4,1020.0 L1313.0,1118.7"/>
<path d="M1215.8,1123.8 L1216.8,1140.0"/>
<path d="M1303.8,1121.3 L1305.3,1140.0"/>
<path d="M914.2,1029.5 L915.7,1140.0"/>
<path d="M718.3,1029.0 L720.9,1045.4 L716.8,1058.0 L717.3,1083.3 L708.2,1088.4 L700.6,1088.4 L695.5,1093.4 L696.6,1103.6 L694.5,1113.7 L698.1,1121.3 L696.6,1128.9 L700.6,1136.5 L698.1,1141.5"/>
<path d="M355.0,1026.0 L357.0,1029.3 L355.7,1035.2 L356.3,1046.0"/>
<path d="M590.0,1029.0 L592.0,1046.0"/>
<path d="M327.0,1130.0 L327.0,1140.0"/>
<path d="M600.0,1130.0 L601.0,1140.0"/>
</g>
<g clip-path="url(#fr)" fill="none" stroke="#000" stroke-width="2.8" stroke-linejoin="round"><path d="M135.0,209.9 L153.1,210.6 L171.3,211.4 L189.4,212.1 L207.5,212.8 L225.6,213.5 L243.8,214.2 L261.9,214.8 L280.0,215.4 L298.1,216.0 L316.3,216.5 L334.4,217.1 L352.5,217.6 L370.7,218.1 L388.8,218.6 L406.9,219.0 L425.0,219.5 L443.2,219.9 L461.3,220.2 L479.4,220.6 L497.5,220.9 L515.7,221.2 L533.8,221.5 L551.9,221.8 L570.1,222.0 L588.2,222.3 L606.3,222.5 L624.4,222.6 L642.6,222.8 L660.7,222.9 L678.8,223.0 L696.9,223.1 L715.1,223.2 L733.2,223.2 L751.3,223.2 L769.4,223.2 L787.6,223.2 L805.7,223.1 L823.8,223.1 L842.0,223.0 L860.1,222.8 L878.2,222.7 L896.3,222.5 L914.5,222.3 L932.6,222.1 L950.7,221.9 L968.8,221.6 L987.0,221.3 L1005.1,221.0 L1023.2,220.7 L1041.4,220.3 L1059.5,220.0 L1077.6,219.6 L1095.7,219.2 L1113.9,218.7 L1132.0,218.2 L1150.1,217.8 L1168.2,217.2 L1186.4,216.7 L1204.5,216.1 L1232.6,1022.6 L1213.4,1023.2 L1194.2,1023.8 L1175.0,1024.4 L1155.8,1024.9 L1136.6,1025.4 L1117.4,1025.9 L1098.1,1026.4 L1078.9,1026.8 L1059.7,1027.3 L1040.5,1027.7 L1021.3,1028.0 L1002.1,1028.4 L982.9,1028.7 L963.7,1029.0 L944.5,1029.2 L925.3,1029.5 L906.1,1029.7 L886.9,1029.9 L867.7,1030.0 L848.4,1030.2 L829.2,1030.3 L810.0,1030.4 L790.8,1030.4 L771.6,1030.5 L752.4,1030.5 L733.2,1030.5 L714.0,1030.4 L694.8,1030.3 L675.6,1030.3 L656.4,1030.1 L637.2,1030.0 L618.0,1029.8 L598.7,1029.6 L579.5,1029.4 L560.3,1029.2 L541.1,1028.9 L521.9,1028.6 L502.7,1028.3 L483.5,1027.9 L464.3,1027.6 L445.1,1027.2 L425.9,1026.7 L406.7,1026.3 L387.5,1025.8 L368.3,1025.3 L349.0,1024.8 L329.8,1024.2 L310.6,1023.6 L291.4,1023.0 L272.2,1022.4 L253.0,1021.8 L233.8,1021.1 L214.6,1020.4 L195.4,1019.6 L176.2,1018.9 L157.0,1018.1 L137.8,1017.3 L118.6,1016.5 L99.3,1015.6 Z M19.0,204.4 L31.9,205.0 L44.8,205.7 L57.7,206.3 L70.6,206.9 L83.4,207.6 L96.3,208.1 L109.2,208.7 L122.1,209.3 L135.0,209.9 M19.0,1011.7 L35.1,1012.6 L51.1,1013.3 L67.2,1014.1 L83.3,1014.9 L99.3,1015.6 M99.3,1015.6 L92.9,1141.0 M1232.6,1022.6 L1251.3,1022.0 L1270.0,1021.3 L1288.6,1020.6 L1307.3,1019.9 L1326.0,1019.2 M1211.5,416.8 L1326.0,412.4 M1077.6,1026.9 L1080.0,1127.5 M1072.6,1128.9 L1326.0,1118.7 M1072.6,1128.9 L1072.6,1141.0 M898.0,104.0 L898.4,222.5"/></g>
<rect x="20" y="105.8" width="1305" height="1034" fill="none" stroke="#000" stroke-width="2"/>
<rect x="378.6" y="117.5" width="588.8" height="95" fill="#fff" stroke="#000" stroke-width="3"/>
<text x="387.3" y="144.8" font-size="23.6" font-family="'Liberation Sans', sans-serif" text-anchor="start" textLength="547.8" lengthAdjust="spacingAndGlyphs">statewide departure from 1901-2000 avg: +2°F</text>
<text x="387.3" y="170.6" font-size="23.6" font-family="'Liberation Sans', sans-serif" text-anchor="start" textLength="569.6" lengthAdjust="spacingAndGlyphs">statewide departure from 1991-2020 avg: +0.4°F</text>
<text x="387.3" y="197.3" font-size="23.6" font-family="'Liberation Sans', sans-serif" text-anchor="start" textLength="509.1" lengthAdjust="spacingAndGlyphs">statewide rank: 18th warmest/112th coldest</text>
<rect x="31.6" y="1046.4" width="626.9" height="84.1" fill="#fff" stroke="#000" stroke-width="3"/>
<text x="38.8" y="1071" font-size="22.2" font-family="'Liberation Sans', sans-serif" text-anchor="start" textLength="314.3" lengthAdjust="spacingAndGlyphs">source: NOAA/NCEI nclimgrid</text>
<text x="38.8" y="1094.8" font-size="22.2" font-family="'Liberation Sans', sans-serif" text-anchor="start" textLength="610.4" lengthAdjust="spacingAndGlyphs">map: Colorado Climate Center/Colorado State University</text>
<text x="38.8" y="1118" font-size="22.2" font-family="'Liberation Sans', sans-serif" text-anchor="start" textLength="334.4" lengthAdjust="spacingAndGlyphs">map generated 16 March 2025</text>
<text x="673" y="48.4" font-size="38.8" font-family="'Liberation Sans', sans-serif" text-anchor="middle" textLength="497" lengthAdjust="spacingAndGlyphs">average temperature rank</text>
<text x="672" y="90.4" font-size="38.8" font-family="'Liberation Sans', sans-serif" text-anchor="middle" textLength="721.9" lengthAdjust="spacingAndGlyphs">9 months ending March 2021 (Jul-Mar)</text>
<rect x="122.60" y="1152.5" width="157.70" height="40.200000000000045" fill="#327cb7"/>
<rect x="279.70" y="1152.5" width="157.70" height="40.200000000000045" fill="#6bacd1"/>
<rect x="436.80" y="1152.5" width="157.70" height="40.200000000000045" fill="#b1d5e7"/>
<rect x="593.90" y="1152.5" width="157.70" height="40.200000000000045" fill="#f7f6f6"/>
<rect x="751.00" y="1152.5" width="157.70" height="40.200000000000045" fill="#f8bfa4"/>
<rect x="908.10" y="1152.5" width="157.70" height="40.200000000000045" fill="#e48066"/>
<rect x="1065.20" y="1152.5" width="157.70" height="40.200000000000045" fill="#c43b3c"/>
<path d="M122.6,1152.5 L69.8,1172.6 L122.6,1192.7 Z" fill="#053061"/>
<path d="M1222.3,1152.5 L1274.5,1172.6 L1222.3,1192.7 Z" fill="#67001f"/>
<path d="M122.6,1152.5 L1222.3,1152.5 L1274.5,1172.6 L1222.3,1192.7 L122.6,1192.7 L69.8,1172.6 Z" fill="none" stroke="#000" stroke-width="2" stroke-linejoin="miter"/>
<line x1="122.60" y1="1192.7" x2="122.60" y2="1202.5" stroke="#000" stroke-width="1.7"/>
<text x="122.60" y="1234.6" font-size="28" font-family="'Liberation Sans', sans-serif" text-anchor="middle" textLength="86.5" lengthAdjust="spacingAndGlyphs">record</text>
<text x="122.60" y="1267.4" font-size="28" font-family="'Liberation Sans', sans-serif" text-anchor="middle" textLength="97.5" lengthAdjust="spacingAndGlyphs">coldest</text>
<line x1="279.70" y1="1192.7" x2="279.70" y2="1202.5" stroke="#000" stroke-width="1.7"/>
<text x="279.70" y="1234.6" font-size="28" font-family="'Liberation Sans', sans-serif" text-anchor="middle" textLength="62.2" lengthAdjust="spacingAndGlyphs">10th</text>
<text x="279.70" y="1267.4" font-size="28" font-family="'Liberation Sans', sans-serif" text-anchor="middle" textLength="97.5" lengthAdjust="spacingAndGlyphs">coldest</text>
<line x1="436.80" y1="1192.7" x2="436.80" y2="1202.5" stroke="#000" stroke-width="1.7"/>
<text x="436.80" y="1234.6" font-size="28" font-family="'Liberation Sans', sans-serif" text-anchor="middle" textLength="62.2" lengthAdjust="spacingAndGlyphs">20th</text>
<text x="436.80" y="1267.4" font-size="28" font-family="'Liberation Sans', sans-serif" text-anchor="middle" textLength="97.5" lengthAdjust="spacingAndGlyphs">coldest</text>
<line x1="593.90" y1="1192.7" x2="593.90" y2="1202.5" stroke="#000" stroke-width="1.7"/>
<text x="593.90" y="1234.6" font-size="28" font-family="'Liberation Sans', sans-serif" text-anchor="middle" textLength="62.2" lengthAdjust="spacingAndGlyphs">35th</text>
<text x="593.90" y="1267.4" font-size="28" font-family="'Liberation Sans', sans-serif" text-anchor="middle" textLength="97.5" lengthAdjust="spacingAndGlyphs">coldest</text>
<line x1="751.00" y1="1192.7" x2="751.00" y2="1202.5" stroke="#000" stroke-width="1.7"/>
<text x="751.00" y="1234.6" font-size="28" font-family="'Liberation Sans', sans-serif" text-anchor="middle" textLength="62.2" lengthAdjust="spacingAndGlyphs">35th</text>
<text x="751.00" y="1267.4" font-size="28" font-family="'Liberation Sans', sans-serif" text-anchor="middle" textLength="117.1" lengthAdjust="spacingAndGlyphs">warmest</text>
<line x1="908.10" y1="1192.7" x2="908.10" y2="1202.5" stroke="#000" stroke-width="1.7"/>
<text x="908.10" y="1234.6" font-size="28" font-family="'Liberation Sans', sans-serif" text-anchor="middle" textLength="62.2" lengthAdjust="spacingAndGlyphs">20th</text>
<text x="908.10" y="1267.4" font-size="28" font-family="'Liberation Sans', sans-serif" text-anchor="middle" textLength="117.1" lengthAdjust="spacingAndGlyphs">warmest</text>
<line x1="1065.20" y1="1192.7" x2="1065.20" y2="1202.5" stroke="#000" stroke-width="1.7"/>
<text x="1065.20" y="1234.6" font-size="28" font-family="'Liberation Sans', sans-serif" text-anchor="middle" textLength="62.2" lengthAdjust="spacingAndGlyphs">10th</text>
<text x="1065.20" y="1267.4" font-size="28" font-family="'Liberation Sans', sans-serif" text-anchor="middle" textLength="117.1" lengthAdjust="spacingAndGlyphs">warmest</text>
<line x1="1222.30" y1="1192.7" x2="1222.30" y2="1202.5" stroke="#000" stroke-width="1.7"/>
<text x="1222.30" y="1234.6" font-size="28" font-family="'Liberation Sans', sans-serif" text-anchor="middle" textLength="86.5" lengthAdjust="spacingAndGlyphs">record</text>
<text x="1222.30" y="1267.4" font-size="28" font-family="'Liberation Sans', sans-serif" text-anchor="middle" textLength="117.1" lengthAdjust="spacingAndGlyphs">warmest</text>
<text x="671" y="1309.6" font-size="34.5" font-family="'Liberation Sans', sans-serif" text-anchor="middle" textLength="797.2" lengthAdjust="spacingAndGlyphs">temperature rank out of 129 years (1896-2024)</text>
</svg></body></html>
